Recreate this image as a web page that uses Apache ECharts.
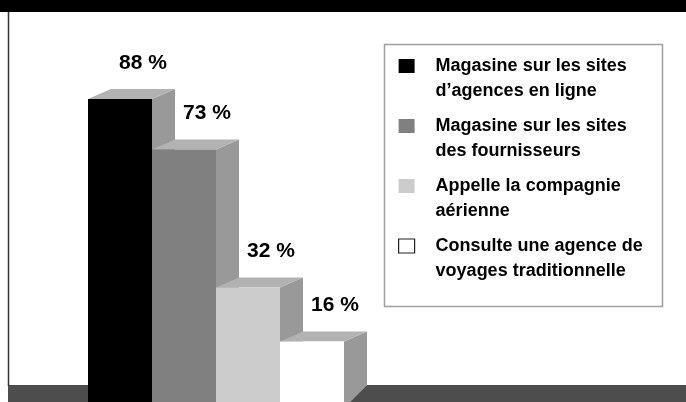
<!DOCTYPE html>
<html>
<head>
<meta charset="utf-8">
<script src="https://cdn.jsdelivr.net/npm/echarts@6/dist/echarts.min.js"></script>
<style>
html,body{margin:0;padding:0;background:#fff;}
#main{width:686px;height:402px;}
</style>
</head>
<body>
<div id="main"></div>
<script>
// data
var categories = ['Magasine sur les sites\nd\u2019agences en ligne', 'Magasine sur les sites\ndes fournisseurs', 'Appelle la compagnie\na\u00e9rienne', 'Consulte une agence de\nvoyages traditionnelle'];
var values = [88, 73, 32, 16];
var frontColors = ['#000000', '#808080', '#cccccc', '#ffffff'];

var FONT = '"Liberation Sans", Arial, sans-serif';
var DX = 23, DY = 10;

var myChart = echarts.init(document.getElementById('main'));

function renderBar(params, api) {
    var x = api.value(0), v = api.value(1);
    var pt = api.coord([x, v]);
    var base = api.coord([x, 0]);
    var w = api.size([1, 0])[0];
    var x0 = pt[0] - w / 2, x1 = pt[0] + w / 2, y = pt[1];
    var cs = params.coordSys;
    var bottom = cs.y + cs.height + 20;
    var floorTop = base[1] - DY;
    var col = frontColors[params.seriesIndex];
    return {
        type: 'group',
        children: [
            { // side
                type: 'polygon',
                shape: {points: [[x1, y], [x1 + DX, y - DY], [x1 + DX, floorTop], [x1, floorTop + DX]]},
                style: {fill: '#999999'}
            },
            { // top
                type: 'polygon',
                shape: {points: [[x0, y], [x1, y], [x1 + DX, y - DY], [x0 + DX, y - DY]]},
                style: {fill: '#b2b2b2'}
            },
            { // front
                type: 'rect',
                shape: {x: x0, y: y, width: x1 - x0, height: bottom - y},
                style: {fill: col}
            },
            {
                type: 'text',
                style: {
                    text: v + ' %', x: pt[0] + DX, y: y - DY - 26,
                    align: 'center', verticalAlign: 'middle',
                    font: 'bold 21px ' + FONT, fill: '#000'
                }
            }
        ]
    };
}

var series = [];
for (var i = 0; i < categories.length; i++) {
    series.push({
        name: categories[i],
        type: 'custom',
        renderItem: renderBar,
        itemStyle: {color: frontColors[i]},
        data: [[i, values[i]]]
    });
}

var option = {
    animation: false,
    backgroundColor: '#ffffff',
    grid: {left: 88, width: 256, top: 58.5, bottom: 0},
    xAxis: {type: 'category', data: categories, show: false},
    yAxis: {type: 'value', min: -2, max: 100, show: false},
    legend: {
        orient: 'vertical',
        left: 398,
        top: 53.5,
        padding: 0,
        itemGap: 10,
        itemWidth: 32,
        itemHeight: 39,
        icon: 'path://M0,0L16,0L16,14L0,14Z M32,39L32,39',
        itemStyle: {borderWidth: 0},
        selectedMode: false,
        textStyle: {fontFamily: FONT, fontSize: 18, fontWeight: 'bold', color: '#000', lineHeight: 25},
        data: [
            {name: categories[0]},
            {name: categories[1]},
            {name: categories[2]},
            {name: categories[3], itemStyle: {borderColor: '#222', borderWidth: 1.2}}
        ]
    },
    graphic: [
        {type: 'rect', shape: {x: 8, y: 385, width: 678, height: 17}, style: {fill: '#4d4d4d'}, z: -1},
        {type: 'rect', shape: {x: 0, y: 0, width: 686, height: 12}, style: {fill: '#000'}},
        {type: 'line', shape: {x1: 8.5, y1: 12, x2: 8.5, y2: 386}, style: {stroke: '#333', lineWidth: 1.5}},
        {type: 'rect', shape: {x: 384.5, y: 44.5, width: 278, height: 262}, style: {fill: 'none', stroke: '#a0a0a0', lineWidth: 1.5}}
    ],
    series: series
};
myChart.setOption(option);
</script>
</body>
</html>
